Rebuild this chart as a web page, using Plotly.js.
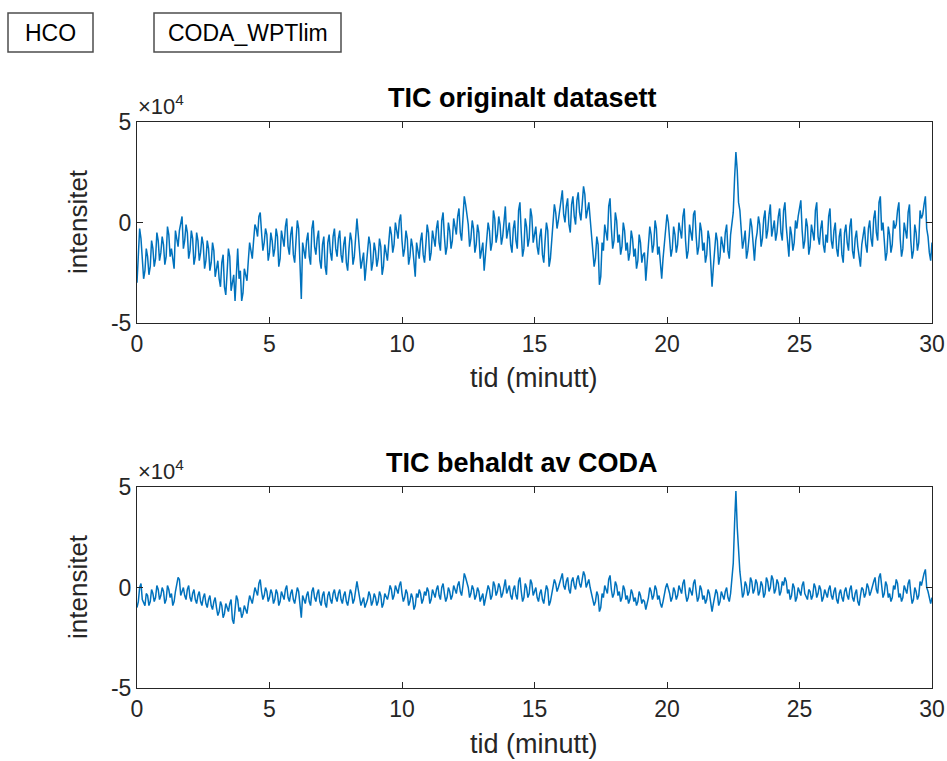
<!DOCTYPE html>
<html>
<head>
<meta charset="utf-8">
<script src="https://cdn.plot.ly/plotly-3.0.1.min.js"></script>
<style>html,body{margin:0;padding:0;background:#fff;}#chart{width:947px;height:761px;}</style>
</head>
<body>
<div id="chart"></div>
<script>
// ---- data (intensity in units of 10^4, sampled every 0.05 minutes from t = 0) ----
const timeStart = 0;
const timeStep = 0.05;
const xTickVals = [0, 5, 10, 15, 20, 25, 30];
const yTickVals = [-5, 0, 5];
const yTickText = ['-5', '0', '5'];

const ticOriginal = [
-3.0,-1.6,-0.3,-0.8,-1.9,-2.8,-2.4,-1.3,-1.7,-2.6,-2.2,-0.9,-1.3,-2.2,-1.8,-0.5,-0.9,-1.9,-1.5,-0.7,
-1.1,-2.1,-1.7,-0.2,-0.6,-1.7,-1.3,-2.0,-2.3,-0.4,-0.8,-1.2,-0.4,0.0,0.3,-1.3,-0.9,-0.1,-0.5,-1.8,
-1.4,-0.4,-0.8,-2.1,-1.7,-0.5,-0.9,-1.9,-1.5,-0.7,-1.1,-2.3,-1.9,-0.9,-1.3,-2.4,-2.0,-1.0,-1.4,-2.7,
-2.3,-1.9,-2.8,-3.2,-2.0,-1.6,-3.2,-3.6,-2.5,-1.3,-1.7,-3.4,-3.0,-2.6,-3.9,-2.6,-1.3,-2.8,-2.4,-3.9,
-3.5,-2.3,-2.7,-2.9,-1.9,-1.0,-1.4,-1.8,-0.9,-0.1,-0.3,-0.7,0.3,0.5,-0.5,-1.4,-1.0,-0.3,-0.6,-1.9,
-1.5,-0.5,-0.9,-1.7,-1.3,-0.3,-0.7,-2.2,-1.8,-0.4,-0.8,-1.2,-0.2,0.2,-1.2,-1.6,-0.6,-0.2,-1.6,-2.0,
-0.9,0.1,-0.3,-2.0,-3.8,-1.0,-1.4,-1.8,-0.9,-0.5,-1.7,-2.1,-0.3,0.1,-1.2,-1.6,-0.8,-0.4,-1.9,-2.3,
-1.1,-0.7,-2.2,-2.6,-1.0,-0.6,-1.5,-1.9,-0.7,-0.3,-1.3,-1.7,-0.8,-0.4,-1.6,-2.0,-1.1,-0.7,-2.0,-2.4,
-1.3,-0.5,-0.9,-2.1,-1.7,-0.7,0.2,-0.6,-1.4,-2.3,-1.9,-1.5,-2.9,-2.1,-1.6,-0.7,-1.1,-2.4,-2.0,-1.0,
-1.4,-2.2,-1.8,-0.8,-1.2,-2.6,-2.2,-1.1,-1.5,-1.9,-1.0,-0.2,-0.6,-1.5,-1.1,0.0,-0.4,-0.8,0.1,0.4,
-0.9,-1.7,-1.3,-0.4,-0.8,-2.1,-1.7,-0.8,-1.2,-1.9,-2.7,-1.0,-1.4,-1.8,-0.9,-0.5,-1.6,-2.0,-1.1,-0.1,
-0.5,-1.9,-1.5,-0.4,-0.8,-1.2,-0.3,0.1,-1.0,-1.4,0.1,0.5,-0.7,-1.6,-1.2,0.0,-0.4,-1.3,-0.9,0.2,
-0.2,-0.6,0.3,0.7,-0.5,-0.9,0.2,1.3,0.9,0.3,-0.1,-1.2,-0.8,0.1,-0.3,-1.5,-1.1,-0.1,-0.5,-1.8,
-1.4,-1.0,-2.4,-1.6,-0.9,0.0,-0.4,-1.4,-1.0,0.6,0.2,-1.0,-0.6,0.3,-0.1,-1.1,-0.7,0.2,0.8,-0.8,
-0.4,0.0,-1.1,-1.5,-0.3,0.1,-0.9,-1.3,0.6,1.0,-0.5,-1.7,-1.3,0.2,-0.2,-1.2,-0.8,0.7,0.3,-1.0,
-0.6,-0.2,-1.2,-1.6,-0.7,-0.3,-1.6,-2.0,-0.9,0.0,-0.4,-2.2,-1.8,-1.0,-0.2,0.9,0.5,-0.3,0.1,0.6,
1.2,1.6,0.4,0.0,0.8,1.2,-0.1,-0.5,0.9,1.3,0.3,-0.1,1.1,1.5,0.5,0.1,0.9,1.8,1.4,0.2,
0.6,1.0,0.2,-0.6,-1.3,-2.2,-1.8,-0.7,-1.1,-3.1,-2.7,-1.0,-1.4,-0.1,-0.5,-0.9,0.8,1.2,-0.3,-1.3,
-0.9,0.5,0.1,-1.0,-0.6,-1.6,-1.2,0.0,-0.4,-1.4,-1.0,-1.9,-1.5,-0.4,-0.8,-1.7,-1.3,-2.3,-1.9,-0.6,
-1.0,-2.0,-1.6,-1.5,-2.9,-2.1,-1.4,-0.2,-0.6,-1.5,-1.1,0.1,-0.3,-1.6,-1.2,-2.0,-2.8,-1.8,-0.9,-0.2,
0.4,0.0,-0.8,-1.7,-1.3,-0.2,-0.6,-1.5,-1.1,0.0,-0.4,-0.8,0.3,0.7,-0.9,-1.8,-1.4,-0.1,-0.5,-0.9,
0.4,0.6,-0.7,-1.6,-1.2,0.0,-0.4,-1.4,-1.0,-2.0,-1.6,-0.4,-0.8,-2.0,-3.2,-2.2,-1.3,-0.5,-0.9,-2.1,
-1.7,-0.7,-1.1,-1.5,-0.5,-0.1,-1.4,-1.8,-0.6,0.1,0.5,2.2,3.5,2.6,1.0,0.6,-0.3,-1.3,-0.9,-0.4,
-1.8,-1.4,-0.7,0.2,-0.2,-1.2,-1.9,-0.9,-0.5,0.3,-0.1,-1.2,-0.8,0.2,0.6,-0.8,-0.4,0.4,0.9,-0.7,
-0.3,0.1,-0.9,-0.5,0.3,0.7,-0.5,-0.9,0.6,1.0,-0.2,-1.2,-1.7,-0.2,-0.6,-1.4,-1.0,0.1,-0.3,0.3,
0.7,1.1,-0.4,-1.3,-0.9,0.2,-0.2,-1.6,-1.2,-0.1,-0.5,-0.9,0.6,1.0,-0.7,-1.1,-0.3,0.1,-1.1,-1.5,
-0.6,-1.0,0.3,0.7,-0.9,-1.3,-0.4,0.0,-1.3,-1.7,-0.7,-0.3,-1.6,-2.0,-0.5,-0.1,-1.0,-1.4,-0.2,0.2,
-1.4,-1.8,-0.8,-0.4,-1.2,-1.6,-2.2,-1.1,-0.6,-0.2,-1.1,-1.5,-0.3,0.1,-0.8,-1.2,0.2,0.6,-0.5,-0.9,
1.0,1.3,-0.4,0.0,-0.9,-1.9,-1.5,-0.2,-0.6,-1.5,-1.1,0.1,-0.3,-0.1,0.6,1.0,-0.8,-1.7,-1.3,0.0,
-0.4,-0.8,0.5,0.9,-0.9,-1.8,-1.4,-0.1,-0.5,-1.4,-1.0,0.6,0.2,0.4,0.9,1.3,-0.3,-0.7,-1.5,-1.9,
-1.0
];

const ticCoda = [
-1.0,-0.7,0.0,0.2,-0.6,-0.8,-0.9,-0.3,-0.4,-0.9,-0.7,-0.1,-0.3,-0.7,-0.5,0.1,-0.1,-0.6,-0.4,0.0,
-0.2,-0.8,-0.6,0.1,-0.1,-0.5,-0.3,-0.9,-0.7,-0.2,0.1,0.5,0.4,-0.4,-0.2,0.0,-0.4,-0.6,-0.1,0.1,
-0.5,-0.7,-0.3,-0.1,-0.6,-0.8,-0.4,-0.2,-0.7,-0.9,-0.5,-0.3,-0.8,-1.0,-0.6,-0.4,-0.9,-1.1,-0.7,-0.5,
-1.0,-1.4,-1.2,-0.7,-0.9,-1.5,-1.3,-0.8,-1.0,-1.2,-0.8,-0.6,-1.6,-1.8,-1.1,-0.4,-0.6,-1.2,-1.0,-1.5,
-1.3,-0.9,-1.1,-1.3,-0.8,-0.4,-0.6,-0.8,-0.4,0.0,-0.2,-0.4,0.2,0.4,-0.2,-0.6,-0.4,0.0,-0.2,-0.7,
-0.5,-0.1,-0.3,-0.8,-0.6,-0.1,-0.3,-0.9,-0.7,-0.2,-0.4,-0.6,-0.1,0.1,-0.5,-0.7,-0.3,-0.1,-0.6,-0.8,
-0.4,0.0,-0.2,-0.8,-1.5,-0.4,-0.6,-0.8,-0.4,-0.2,-0.7,-0.9,-0.2,0.0,-0.5,-0.7,-0.3,-0.1,-0.7,-0.9,
-0.4,-0.2,-0.8,-1.0,-0.4,-0.2,-0.6,-0.8,-0.3,-0.1,-0.5,-0.7,-0.3,-0.1,-0.6,-0.8,-0.4,-0.2,-0.7,-0.9,
-0.5,-0.1,-0.3,-0.8,-0.6,-0.1,0.3,-0.1,-0.5,-0.9,-0.7,-0.5,-1.0,-0.8,-0.6,-0.2,-0.4,-0.9,-0.7,-0.3,
-0.5,-0.9,-0.7,-0.2,-0.4,-1.0,-0.8,-0.3,-0.5,-0.6,-0.3,0.1,-0.1,-0.6,-0.4,0.1,-0.1,-0.3,0.1,0.3,
-0.3,-0.7,-0.5,-0.1,-0.3,-0.9,-0.7,-0.3,-0.5,-1.1,-0.9,-0.3,-0.5,-0.1,-0.3,-0.8,-0.6,-0.2,-0.4,0.0,
-0.2,-0.8,-0.6,-0.1,-0.3,-0.5,-0.1,0.1,-0.4,-0.6,0.0,0.2,-0.3,-0.7,-0.5,0.0,-0.2,-0.6,-0.4,0.1,
-0.1,-0.3,0.1,0.3,-0.2,-0.4,0.1,0.7,0.5,0.2,0.0,-0.5,-0.3,0.1,-0.1,-0.6,-0.4,0.0,-0.2,-0.7,
-0.5,-0.3,-0.9,-0.6,-0.3,0.1,-0.1,-0.6,-0.4,0.3,0.1,-0.4,-0.2,0.2,0.0,-0.5,-0.3,0.1,0.4,-0.3,
-0.1,0.1,-0.4,-0.6,-0.1,0.1,-0.4,-0.6,0.3,0.5,-0.2,-0.7,-0.5,0.2,0.0,-0.5,-0.3,0.4,0.2,-0.4,
-0.2,0.0,-0.5,-0.7,-0.3,-0.1,-0.6,-0.8,-0.3,0.1,-0.1,-0.9,-0.7,-0.3,0.0,0.4,0.2,-0.2,0.0,0.2,
0.5,0.7,0.1,-0.1,0.3,0.5,-0.1,-0.3,0.3,0.5,0.1,-0.1,0.4,0.6,0.2,0.0,0.4,0.8,0.6,0.0,
0.2,0.4,0.0,-0.3,-0.5,-0.9,-0.7,-0.2,-0.4,-1.2,-1.0,-0.3,-0.5,0.1,-0.1,-0.3,0.4,0.6,-0.1,-0.5,
-0.3,0.3,0.1,-0.4,-0.2,-0.7,-0.5,0.1,-0.1,-0.6,-0.4,-0.8,-0.6,-0.1,-0.3,-0.7,-0.5,-0.9,-0.7,-0.2,
-0.4,-0.8,-0.6,-0.7,-1.1,-0.8,-0.5,0.0,-0.2,-0.6,-0.4,0.1,-0.1,-0.6,-0.4,-0.8,-1.0,-0.7,-0.3,0.0,
0.2,0.0,-0.3,-0.7,-0.5,0.0,-0.2,-0.6,-0.4,0.1,-0.1,-0.3,0.2,0.4,-0.3,-0.7,-0.5,0.0,-0.2,-0.4,
0.2,0.4,-0.2,-0.7,-0.5,0.1,-0.1,-0.6,-0.4,-0.8,-0.6,-0.1,-0.3,-0.8,-1.2,-0.8,-0.5,-0.1,-0.3,-0.9,
-0.7,-0.2,-0.4,-0.6,-0.2,0.0,-0.5,-0.7,-0.3,0.3,1.2,3.2,4.8,3.0,1.6,0.8,0.2,-0.5,-0.3,0.3,
0.1,-0.4,-0.2,0.5,0.3,-0.3,-0.1,0.4,0.2,-0.4,-0.2,0.3,0.1,-0.5,-0.3,0.5,0.3,-0.2,0.0,0.6,
0.4,-0.3,-0.1,0.4,0.2,-0.4,-0.2,0.3,0.1,0.5,0.3,-0.3,-0.1,-0.6,-0.4,0.2,0.0,-0.7,-0.5,0.0,
-0.2,-0.4,0.1,0.3,-0.3,-0.5,-0.6,-0.1,-0.2,-0.6,-0.4,0.2,0.0,-0.5,-0.3,0.1,-0.1,-0.7,-0.5,-0.1,
-0.3,-0.5,-0.1,0.1,-0.4,-0.6,-0.2,0.0,-0.6,-0.8,-0.3,-0.1,-0.5,-0.7,-0.2,0.0,-0.4,-0.6,-0.1,0.1,
-0.5,-0.7,-0.3,-0.1,-0.7,-0.9,-0.4,0.0,-0.1,-0.5,-0.3,0.2,0.0,-0.4,-0.2,0.1,0.3,0.5,-0.1,-0.3,
0.5,0.7,-0.1,-0.5,-0.3,0.3,0.1,-0.5,-0.3,-0.7,-0.5,0.1,-0.1,0.4,0.2,-0.5,-0.3,-0.7,-0.5,0.1,
-0.1,-0.3,0.2,0.4,-0.3,-0.8,-0.6,0.0,-0.2,-0.6,-0.4,0.3,0.1,0.5,0.7,0.9,0.0,-0.2,-0.6,-0.8,
-0.5
];

const subplotTitles = ['TIC originalt datasett', 'TIC behaldt av CODA'];
const xAxisTitle = 'tid (minutt)';
const yAxisTitle = 'intensitet';
const buttonLabels = ['HCO', 'CODA_WPTlim'];

// ---- layout helpers (pixel -> paper) ----
const W = 947, H = 761;
const px = v => v / W;
const py = v => 1 - v / H;

const axColor = '#262626';
const fontFam = '"Liberation Sans", Arial, Helvetica, sans-serif';
const tickFont = {family: fontFam, size: 23, color: axColor};

function xAxis(anchor) {
  return {
    domain: [px(137), px(932)], anchor: anchor, range: [0, 30],
    tickmode: 'array', tickvals: xTickVals, ticks: 'inside', ticklen: 6,
    tickcolor: axColor, tickwidth: 1, showline: true, linecolor: axColor, linewidth: 1,
    mirror: 'ticks', showgrid: false, zeroline: false, tickfont: tickFont
  };
}
function yAxis(anchor, top, bottom) {
  return {
    domain: [py(bottom), py(top)], anchor: anchor, range: [-5, 5],
    tickmode: 'array', tickvals: yTickVals, ticktext: yTickText, ticks: 'inside', ticklen: 6,
    tickcolor: axColor, tickwidth: 1, showline: true, linecolor: axColor, linewidth: 1,
    mirror: 'ticks', showgrid: false, zeroline: false, tickfont: tickFont
  };
}

const traces = [
  {y: ticOriginal, x0: timeStart, dx: timeStep, type: 'scatter', mode: 'lines',
   line: {color: '#0072BD', width: 1.5}, xaxis: 'x', yaxis: 'y', hoverinfo: 'skip'},
  {y: ticCoda, x0: timeStart, dx: timeStep, type: 'scatter', mode: 'lines',
   line: {color: '#0072BD', width: 1.5}, xaxis: 'x2', yaxis: 'y2', hoverinfo: 'skip'}
];

function ann(text, x, y, size, opts) {
  return Object.assign({text: text, x: px(x), y: py(y), xref: 'paper', yref: 'paper',
    showarrow: false, xanchor: 'center', yanchor: 'middle',
    font: {family: fontFam, size: size, color: axColor}}, opts || {});
}

const annotations = [
  ann('<b>' + subplotTitles[0] + '</b>', 522, 98, 27, {font: {family: fontFam, size: 27, color: '#000'}}),
  ann('<b>' + subplotTitles[1] + '</b>', 522, 463, 27, {font: {family: fontFam, size: 27, color: '#000'}}),
  ann('\u00d710<sup>4</sup>', 136, 121, 22, {xanchor: 'left', yanchor: 'bottom'}),
  ann('\u00d710<sup>4</sup>', 136, 486, 22, {xanchor: 'left', yanchor: 'bottom'}),
  ann(xAxisTitle, 534, 378, 27),
  ann(xAxisTitle, 534, 744, 27),
  ann(yAxisTitle, 78, 222, 26, {textangle: -90}),
  ann(yAxisTitle, 78, 587, 26, {textangle: -90}),
  ann(buttonLabels[0], 50.5, 33, 23, {font: {family: fontFam, size: 23, color: '#000'}}),
  ann(buttonLabels[1], 247.5, 33, 23, {font: {family: fontFam, size: 23, color: '#000'}})
];

const shapes = [
  {type: 'rect', xref: 'paper', yref: 'paper', x0: px(8), x1: px(93), y0: py(52), y1: py(13),
   line: {color: '#4d4d4d', width: 1.5}, fillcolor: '#ffffff'},
  {type: 'rect', xref: 'paper', yref: 'paper', x0: px(154), x1: px(341), y0: py(52), y1: py(13),
   line: {color: '#4d4d4d', width: 1.5}, fillcolor: '#ffffff'}
];

const layout = {
  width: W, height: H,
  margin: {l: 0, r: 0, t: 0, b: 0},
  paper_bgcolor: '#ffffff', plot_bgcolor: '#ffffff',
  showlegend: false,
  font: {family: fontFam, color: axColor},
  xaxis: xAxis('y'),
  yaxis: yAxis('x', 122, 323),
  xaxis2: xAxis('y2'),
  yaxis2: yAxis('x2', 487, 688),
  annotations: annotations,
  shapes: shapes
};

Plotly.newPlot('chart', traces, layout, {displayModeBar: false, staticPlot: true});
</script>
</body>
</html>
